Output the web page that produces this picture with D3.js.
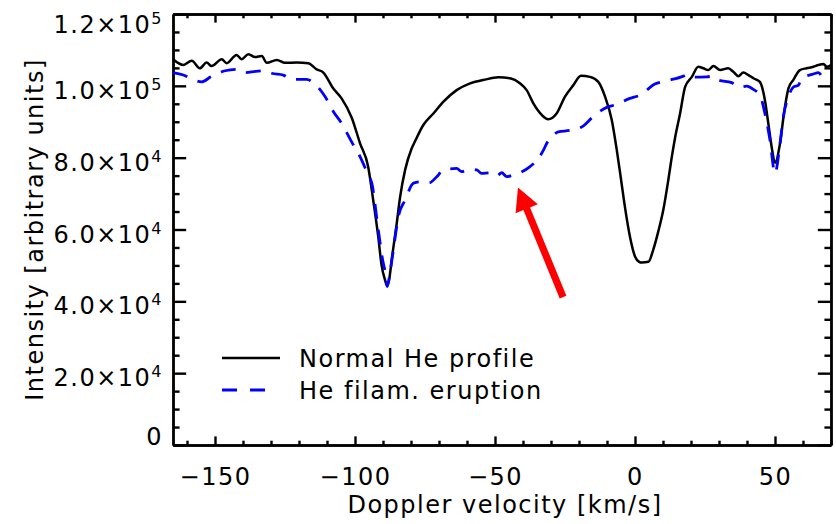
<!DOCTYPE html>
<html>
<head>
<meta charset="utf-8">
<script src="https://cdn.jsdelivr.net/npm/d3@7"></script>
<style>
    body { margin: 0; background: #fff; }
    text { font-family: "DejaVu Sans", sans-serif; font-size: 24px; letter-spacing: 1.5px; fill: #000; }
    .axis path, .axis line { stroke: #000; stroke-width: 2.4; }
    .axis text { font-family: "DejaVu Sans", sans-serif; font-size: 24px; letter-spacing: 1.5px; }
</style>
</head>
<body>
<div id="graph"></div>
<script>
// [velocity km/s, intensity in units of 1e3]
const normalProfile = [
    [-165, 107.4], [-161.3, 105.8], [-158.3, 107.0], [-155.4, 104.9], [-153, 106.5], [-151.2, 105.5],
    [-147.6, 107.4], [-145.8, 106.3], [-142.3, 108.6], [-140.5, 107.4], [-138.1, 108.8], [-135.7, 108.0],
    [-133.3, 108.3], [-131.5, 106.4], [-127.9, 107.2], [-125, 106.4], [-120.8, 106.5], [-116.7, 106.3],
    [-113.7, 104.6], [-111.3, 103.7], [-107.8, 99.3], [-104.8, 96.5], [-101.2, 91.2], [-98.2, 84.0],
    [-95.3, 77.5], [-93.5, 68.2], [-91.7, 58.0], [-90.5, 50.0], [-89.3, 46.0], [-88.5, 44.3],
    [-87.7, 46.5], [-86.9, 51.5], [-85.1, 61.7], [-83.9, 69.0], [-82.1, 76.6], [-79.8, 82.5],
    [-78.6, 84.5], [-75.6, 89.1], [-72, 92.3], [-68.4, 95.6], [-63.7, 98.8], [-58.9, 100.7],
    [-54.2, 101.6], [-48.8, 102.4], [-44.6, 102.1], [-41.1, 100.7], [-38.7, 98.8], [-36.3, 95.1],
    [-33.3, 91.9], [-31, 90.7], [-28, 92.3], [-25, 97.0], [-22, 100.2], [-19.3, 102.8],
    [-16.1, 102.5], [-13.1, 101.1], [-10.7, 97.0], [-8.3, 90.5], [-6.5, 82.1], [-5, 74.0],
    [-3.6, 66.3], [-1.8, 58.0], [0, 52.5], [1.5, 51.0], [2.4, 50.8], [4.8, 51.0],
    [6.5, 54.3], [8.3, 59.4], [10.1, 65.4], [11.9, 73.8], [13.1, 80.0], [14.3, 85.5],
    [16.1, 92.3], [17.9, 99.7], [20.3, 102.5], [22.6, 105.3], [24.4, 104.9], [26.2, 104.4],
    [28, 105.5], [30.4, 104.4], [33.3, 104.9], [35.1, 103.9], [36.9, 102.7], [38.7, 103.7],
    [40.5, 103.0], [42.3, 102.1], [44.6, 101.1], [46.4, 96.0], [47.6, 89.6], [48.8, 83.0],
    [50, 78.6], [51.8, 84.0], [53.2, 92.3], [54.8, 99.3], [56.5, 101.6], [58.9, 104.4],
    [61.3, 104.9], [63.7, 105.3], [65.5, 105.8], [67.3, 106.1], [68.5, 105.3], [70, 105.8]
];

const eruptionProfile = [
    [-165, 103.7], [-161.3, 103.0], [-158, 101.8], [-154.8, 101.1], [-151.5, 102.5], [-148.8, 103.5],
    [-146.4, 104.2], [-141.7, 104.6], [-139.3, 103.7], [-135.5, 104.0], [-132.1, 104.2], [-129.8, 103.5],
    [-125.6, 103.0], [-122.6, 101.8], [-117.3, 101.8], [-114.9, 100.9], [-110.7, 97.0], [-107.7, 92.8],
    [-104.8, 89.6], [-101.2, 84.4], [-98.2, 80.3], [-95.3, 75.2], [-94, 72.9], [-91.7, 60.0],
    [-90, 51.0], [-89.3, 48.5], [-88.5, 44.1], [-87.5, 48.0], [-86.3, 54.3], [-84.5, 63.6],
    [-82.1, 68.2], [-79.1, 72.9], [-76.2, 73.3], [-73.5, 73.0], [-70.8, 74.7], [-68.4, 76.6],
    [-63.7, 77.0], [-61.9, 76.1], [-59, 76.8], [-56.5, 76.6], [-54.8, 75.6], [-52, 75.8],
    [-49.4, 74.9], [-47.6, 75.8], [-45.8, 74.7], [-43.5, 75.2], [-41.1, 75.8], [-37.5, 77.5],
    [-34.5, 79.8], [-32.7, 82.1], [-31.5, 84.0], [-29.5, 86.0], [-27.4, 87.2], [-23.2, 87.6],
    [-18.5, 88.8], [-15.5, 91.0], [-10.1, 94.0], [-7.1, 94.7], [-1.8, 96.5], [1.8, 97.4],
    [7.1, 100.5], [11.3, 101.4], [17.3, 102.7], [19, 103.3], [21.4, 102.4], [25.6, 102.5],
    [28, 102.7], [29.8, 101.6], [34.5, 100.9], [36.9, 99.6], [39.9, 99.9], [42.3, 99.0],
    [44.6, 97.4], [46.4, 92.3], [48.2, 84.9], [50, 75.6], [51.8, 84.0], [53, 91.4],
    [54.8, 97.0], [56.5, 99.6], [58.4, 100.2], [59.5, 102.1], [63.7, 103.3], [65.5, 103.7],
    [67.3, 102.4], [69.6, 103.0]
];

const xTicks = [-150, -100, -50, 0, 50];
const yTicks = [0, 20000, 40000, 60000, 80000, 100000, 120000];
const yTickMantissa = ["0", "2.0×10", "4.0×10", "6.0×10", "8.0×10", "1.0×10", "1.2×10"];
const yTickExponent = ["", "4", "4", "4", "4", "5", "5"];
const legendLabels = ["Normal He profile", "He filam. eruption"];
const arrowTail = [-25.7, 41200];
const arrowTip = [-41.8, 71700];

const width = 836, height = 524;
const margin = { top: 14, right: 5, bottom: 79, left: 173 };
const innerW = width - margin.left - margin.right;
const innerH = height - margin.top - margin.bottom;

const svg = d3.select("#graph")
    .append("svg")
    .attr("width", width)
    .attr("height", height)
    .append("g")
    .attr("transform", `translate(${margin.left}, ${margin.top})`);

let x = d3.scaleLinear().domain([-165, 70]).range([0, innerW]);
let y = d3.scaleLinear().domain([0, 120000]).range([innerH, 0]);

// IDL style: tick length is 2% of the other dimension
const xTickLen = innerH * 0.02, yTickLen = innerW * 0.02;
const xMinor = d3.range(-160, 71, 10).filter(v => v % 50 !== 0);
const yMinor = d3.range(0, 120001, 5000).filter(v => v % 20000 !== 0);

let addAxis = (axis, transform) => svg.append("g")
    .attr("class", "axis")
    .attr("transform", transform || null)
    .call(axis);

addAxis(d3.axisBottom(x).tickValues(xTicks).tickSizeInner(-xTickLen).tickSizeOuter(0)
    .tickFormat(d => d < 0 ? "\u2212" + Math.abs(d) : d), `translate(0, ${innerH})`);
addAxis(d3.axisBottom(x).tickValues(xMinor).tickSizeInner(-xTickLen / 2).tickSizeOuter(0).tickFormat(""),
    `translate(0, ${innerH})`);
addAxis(d3.axisTop(x).tickValues(xTicks).tickSizeInner(-xTickLen).tickSizeOuter(0).tickFormat(""));
addAxis(d3.axisTop(x).tickValues(xMinor).tickSizeInner(-xTickLen / 2).tickSizeOuter(0).tickFormat(""));
addAxis(d3.axisLeft(y).tickValues(yTicks).tickSizeInner(-yTickLen).tickSizeOuter(0).tickFormat(""));
addAxis(d3.axisLeft(y).tickValues(yMinor).tickSizeInner(-yTickLen / 2).tickSizeOuter(0).tickFormat(""));
addAxis(d3.axisRight(y).tickValues(yTicks).tickSizeInner(-yTickLen).tickSizeOuter(0).tickFormat(""),
    `translate(${innerW}, 0)`);
addAxis(d3.axisRight(y).tickValues(yMinor).tickSizeInner(-yTickLen / 2).tickSizeOuter(0).tickFormat(""),
    `translate(${innerW}, 0)`);

svg.selectAll(".axis text").attr("dy", null).attr("y", 40);

// y labels with superscript exponents, kept inside the frame at the ends
let yLabels = svg.selectAll(".ylab")
    .data(yTicks)
    .join("text")
    .attr("class", "ylab")
    .attr("x", -10)
    .attr("y", d => Math.min(Math.max(y(d) + 13, 19), innerH))
    .style("text-anchor", "end");
yLabels.append("tspan").text((d, i) => yTickMantissa[i]);
yLabels.append("tspan")
    .attr("dy", -9)
    .style("font-size", "16px")
    .text((d, i) => yTickExponent[i]);

svg.append("text")
    .attr("transform", `translate(${innerW / 2 + 3}, ${innerH + 68})`)
    .style("text-anchor", "middle")
    .text("Doppler velocity [km/s]");

svg.append("text")
    .attr("transform", `translate(-130, ${innerH / 2})rotate(-90)`)
    .style("text-anchor", "middle")
    .text("Intensity [arbitrary units]");

let line = d3.line()
    .x(d => x(d[0]))
    .y(d => y(d[1] * 1000))
    .curve(d3.curveMonotoneX);

svg.append("path")
    .datum(normalProfile)
    .attr("d", line)
    .attr("fill", "none")
    .attr("stroke", "#000")
    .attr("stroke-width", 2.5);

svg.append("path")
    .datum(eruptionProfile)
    .attr("d", line)
    .attr("fill", "none")
    .attr("stroke", "#0000ff")
    .attr("stroke-width", 2.8)
    .attr("stroke-dasharray", "15,11");

// legend: the dashed sample shows just two dashes
const legendStyles = [
    { stroke: "#000", dash: null, w: 2.5, end: 107 },
    { stroke: "#0000ff", dash: "15,13", w: 2.8, end: 92 }
];
legendLabels.forEach((label, i) => {
    let ly = 344 + i * 32;
    svg.append("line")
        .attr("x1", 49).attr("x2", legendStyles[i].end)
        .attr("y1", ly).attr("y2", ly)
        .attr("stroke", legendStyles[i].stroke)
        .attr("stroke-width", legendStyles[i].w)
        .attr("stroke-dasharray", legendStyles[i].dash);
    svg.append("text")
        .attr("x", 126)
        .attr("y", ly + 9)
        .text(label);
});

// red arrow pointing at the eruption profile
let ax0 = x(arrowTail[0]), ay0 = y(arrowTail[1]);
let ax1 = x(arrowTip[0]), ay1 = y(arrowTip[1]);
let len = Math.hypot(ax1 - ax0, ay1 - ay0);
let ang = Math.atan2(ay1 - ay0, ax1 - ax0) * 180 / Math.PI;
let hl = 23, hw = 12, sw = 3.6;
svg.append("polygon")
    .attr("points", [[0, -sw], [len - hl, -sw], [len - hl, -hw], [len, 0], [len - hl, hw], [len - hl, sw], [0, sw]]
        .map(p => p.join(",")).join(" "))
    .attr("transform", `translate(${ax0}, ${ay0})rotate(${ang})`)
    .attr("fill", "#ff0000");
</script>
</body>
</html>
